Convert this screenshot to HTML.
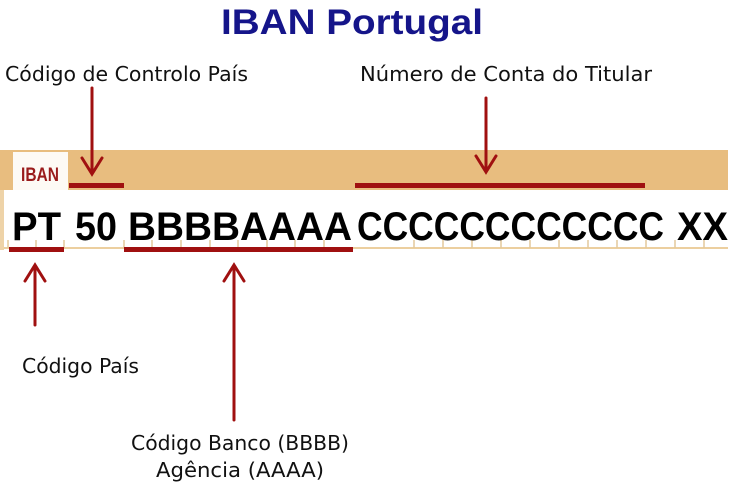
<!DOCTYPE html>
<html><head><meta charset="utf-8"><style>
html,body{margin:0;padding:0;background:#fff;}
svg{display:block}
</style></head><body>
<svg width="730" height="500" viewBox="0 0 730 500" xmlns="http://www.w3.org/2000/svg">
<rect width="730" height="500" fill="#fff"/>
<text x="352" y="34" text-anchor="middle" font-family="Liberation Sans, sans-serif" font-weight="bold" font-size="35" fill="#15158a" textLength="262" lengthAdjust="spacingAndGlyphs">IBAN Portugal</text>
<g font-family="DejaVu Sans, sans-serif" font-size="20" fill="#111">
<text x="5" y="81" textLength="243" lengthAdjust="spacingAndGlyphs">Código de Controlo País</text>
<text x="360" y="81" textLength="292" lengthAdjust="spacingAndGlyphs">Número de Conta do Titular</text>
<text x="22" y="373" textLength="117" lengthAdjust="spacingAndGlyphs">Código País</text>
<text x="240" y="450" text-anchor="middle" textLength="218" lengthAdjust="spacingAndGlyphs">Código Banco (BBBB)</text>
<text x="240" y="477" text-anchor="middle" textLength="168" lengthAdjust="spacingAndGlyphs">Agência (AAAA)</text>
</g>
<rect x="0" y="150" width="728" height="40" fill="#e8bd7f"/>
<rect x="0" y="190" width="4" height="60" fill="#eed3a8"/>
<rect x="13" y="152" width="55" height="40" fill="#fdfaf5"/>
<rect x="4" y="190" width="724" height="58" fill="#fff"/>
<text x="40" y="181" text-anchor="middle" font-family="Liberation Sans, sans-serif" font-weight="bold" font-size="19" fill="#9a1c1c" textLength="38" lengthAdjust="spacingAndGlyphs">IBAN</text>
<line x1="4" y1="248" x2="728" y2="248" stroke="#eccf9f" stroke-width="2"/>
<g stroke="#e3c89a" stroke-width="1.5">
<line x1="8" y1="240" x2="8" y2="248"/><line x1="36" y1="240" x2="36" y2="248"/><line x1="64" y1="240" x2="64" y2="248"/>
<line x1="124" y1="240" x2="124" y2="248"/><line x1="152" y1="240" x2="152" y2="248"/><line x1="181" y1="240" x2="181" y2="248"/><line x1="210" y1="240" x2="210" y2="248"/><line x1="238" y1="240" x2="238" y2="248"/><line x1="267" y1="240" x2="267" y2="248"/><line x1="295" y1="240" x2="295" y2="248"/><line x1="324" y1="240" x2="324" y2="248"/>
<line x1="414" y1="240" x2="414" y2="248"/><line x1="443" y1="240" x2="443" y2="248"/><line x1="472" y1="240" x2="472" y2="248"/><line x1="501" y1="240" x2="501" y2="248"/><line x1="530" y1="240" x2="530" y2="248"/><line x1="559" y1="240" x2="559" y2="248"/><line x1="588" y1="240" x2="588" y2="248"/><line x1="617" y1="240" x2="617" y2="248"/><line x1="646" y1="240" x2="646" y2="248"/><line x1="675" y1="240" x2="675" y2="248"/><line x1="704" y1="240" x2="704" y2="248"/>
</g>
<g font-family="Liberation Sans, sans-serif" font-weight="bold" font-size="40" fill="#000">
<text x="12" y="240" textLength="49" lengthAdjust="spacingAndGlyphs">PT</text>
<text x="75" y="240" textLength="42" lengthAdjust="spacingAndGlyphs">50</text>
<text x="128" y="240" textLength="224" lengthAdjust="spacingAndGlyphs">BBBBAAAA</text>
<text x="357" y="240" textLength="307" lengthAdjust="spacingAndGlyphs">CCCCCCCCCCCC</text>
<text x="677" y="240" textLength="51" lengthAdjust="spacingAndGlyphs">XX</text>
</g>
<g fill="#a01010">
<rect x="69" y="183" width="55" height="5"/>
<rect x="355" y="183" width="290" height="5"/>
<rect x="9" y="247" width="55" height="5"/>
<rect x="124" y="247" width="229" height="5"/>
</g>
<g stroke="#a01010" stroke-width="3" fill="none" stroke-linecap="round">
<line x1="92" y1="88" x2="92" y2="172"/><polyline points="82,158 92,174 102,158"/>
<line x1="486" y1="98" x2="486" y2="170"/><polyline points="476,156 486,172 496,156"/>
<line x1="35" y1="267" x2="35" y2="325"/><polyline points="25,281 35,265 45,281"/>
<line x1="234" y1="267" x2="234" y2="420"/><polyline points="224,281 234,265 244,281"/>
</g>
</svg>
</body></html>
